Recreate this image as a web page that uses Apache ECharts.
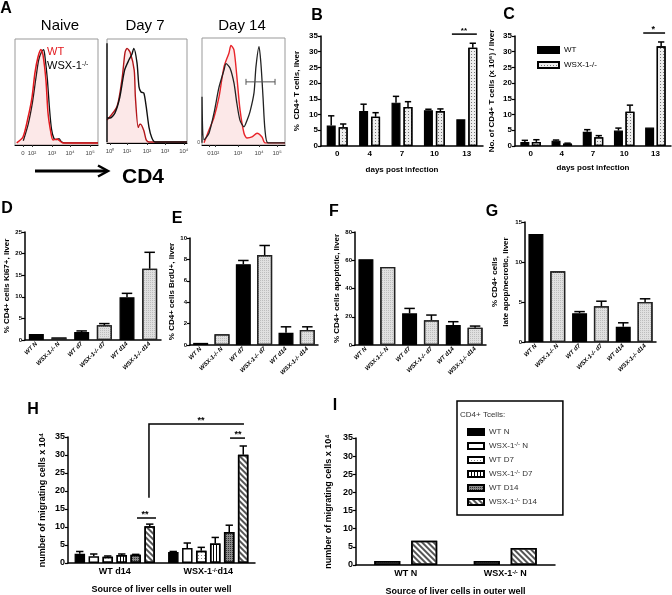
<!DOCTYPE html>
<html><head><meta charset="utf-8">
<script src="https://cdn.jsdelivr.net/npm/echarts@6/dist/echarts.min.js"></script>
<style>html,body{margin:0;padding:0;background:#fff}#c{width:672px;height:595px}</style>
</head><body><div id="c"></div>
<script>
// ---------- Panel A: flow histograms (x: channel, % of plot width; y: % of max count) ----------
const naiveWT = [[2,2],[9.6,7.5],[15.7,26],[20.5,45],[24,68],[27.7,83],[31.3,90],[33.7,85],[37.3,61],[39.8,30],[43.4,11],[45.8,4.7],[50.6,5.7],[54,3.8],[57.8,2],[100,2]];
const naiveKO = [[10,4],[16,20],[21,40],[25,62],[28.5,80],[32,88],[34.5,90],[36,84],[39,62],[41.5,35],[44,15],[47,6],[50,5],[53,6],[56,3],[60,2],[100,2]];
const d7WT = [[0,22],[12.5,35],[19,63],[22.5,87],[25,91],[29,87],[34,70],[35.5,44],[39,15],[41,18],[42,18],[46,12],[49,3],[52.5,1],[100,1]];
const d7KO = [[0,1],[0,96],[1,24],[4,24],[10,29],[16,44],[22,70],[27.5,80],[31,85],[33.5,91],[37.5,77],[40,54],[42.5,49],[46,48],[49,35],[52.5,15],[56,5],[60,1],[100,1]];
const d14WT = [[2.4,2],[8.4,14],[14.5,26],[20.5,45],[26.5,73],[32.5,86],[34.9,93],[38.5,89],[42,64],[45.8,33],[50.6,11],[54.2,6.5],[60.2,7.5],[66.3,11],[72.3,7.5],[75.9,2],[100,2]];
const d14KO = [[0,2],[0,45],[2.4,4.7],[8.4,11],[14.5,30],[20.5,54],[26.5,70],[29,76],[33.7,72],[38.5,58],[42,39],[45.8,23],[50.6,17],[54.2,23],[57.8,31],[62.7,49],[65,73],[68.7,92],[71,76],[73.5,45],[75.9,14],[79.5,2],[100,2]];
const d14Gate = [[53, 88, 59]];
const naiveTicks = [[9.6,'0'],[20.5,'10²'],[44.6,'10³'],[66.3,'10⁴'],[90.4,'10⁵']];
const d7Ticks = [[3.75,'10⁰'],[25,'10¹'],[50,'10²'],[72.5,'10³'],[96,'10⁴']];
const d14Ticks = [[8.4,'0'],[15.7,'10²'],[43.4,'10³'],[68.7,'10⁴'],[90.4,'10⁵']];

// ---------- Panels B, C ----------
const dayCats = ['0','4','7','10','13'];
const bWT = [6.5, 11.1, 13.8, 11.4, 8.5];
const bWTerr = [9.6, 13.3, 15.8, 11.7, 8.5];
const bKO = [6.0, 9.3, 12.4, 11.1, 31.3];
const bKOerr = [7.0, 10.6, 14.1, 11.8, 32.7];
const cWT = [1.3, 1.7, 4.5, 4.9, 5.85];
const cWTerr = [1.8, 1.9, 5.2, 5.7, 5.85];
const cKO = [1.3, 0.75, 2.8, 10.9, 31.7];
const cKOerr = [2.0, 0.9, 3.3, 13.0, 33.1];

// ---------- Panels D-G ----------
const groupCats = ['WT N','WSX-1-/- N','WT d7','WSX-1-/- d7','WT d14','WSX-1-/- d14'];
const dVals = [1.4, 0.6, 1.85, 3.4, 9.9, 16.5];
const dErr  = [1.4, 0.6, 2.1, 3.8, 10.8, 20.3];
const eVals = [0.2, 1.0, 7.55, 8.4, 1.15, 1.4];
const eErr  = [0.2, 1.0, 7.9, 9.3, 1.7, 1.7];
const fVals = [60.7, 55.3, 22.4, 17.6, 14.1, 12.2];
const fErr  = [60.7, 55.3, 25.9, 21.2, 16.5, 13.4];
const gVals = [13.5, 8.83, 3.6, 4.46, 1.9, 5.0];
const gErr  = [13.5, 8.83, 3.8, 5.1, 2.4, 5.4];

// ---------- Panels H, I ----------
const hCats = ['WT d14','WSX-1-/-d14'];
const hNames = ['WT N','WSX-1-/- N','WT D7','WSX-1-/- D7','WT D14','WSX-1-/- D14'];
const hVals = [[2.6,3.05],[1.85,4.2],[1.75,3.4],[2.2,5.4],[2.3,8.6],[10.2,30.1]];
const hErr  = [[3.2,3.2],[2.5,5.55],[1.95,4.35],[2.5,7.1],[2.4,10.5],[10.8,32.5]];
const iCats = ['WT N','WSX-1-/- N'];
const iNames = ['WT D14','WSX-1-/- D14'];
const iVals = [[1.1,1.1],[6.7,4.7]];

// significance brackets: points [category, offset in category widths, value]
const sigB = [{line:[[4,-0.46,35.6],[4,0.31,35.6]], text:[4,-0.09,35.6], label:'**', fs:8}];
const sigC = [{line:[[4,-0.39,35.95],[4,0.31,35.95]], text:[4,-0.07,35.95], label:'*', fs:9}];
const sigH = [
  {line:[[0,0.238,12.5],[0,0.441,12.5]], text:[0,0.324,12.5], label:'**', fs:9},
  {line:[[1,0.233,34.7],[1,0.393,34.7]], text:[1,0.318,34.7], label:'**', fs:9},
  {line:[[0,0.366,18.1],[0,0.366,38.6],[1,0.382,38.6]], text:[0,0.922,38.6], label:'**', fs:9}
];

const F = '"Liberation Sans", Arial, Helvetica, sans-serif';
const grids = [
  {left:15, top:39, width:83, height:106},
  {left:107, top:39, width:80, height:104},
  {left:202, top:38, width:83, height:107},
  {left:321, top:36, width:162, height:110},
  {left:515, top:36, width:156, height:110},
  {left:25, top:232, width:136, height:108},
  {left:190, top:238, width:128, height:107},
  {left:355, top:232, width:131, height:113},
  {left:525, top:222, width:131, height:120},
  {left:68, top:437, width:187, height:126},
  {left:356, top:438, width:199, height:127}
].map((g,i)=>Object.assign({containLabel:false, outerBoundsMode:'none', show:i<3, borderColor:'#999', borderWidth:1}, g));

const xAxis = [], yAxis = [], series = [];

function histAxes(gi, ticks, yZero) {
  const vals = ticks.map(t=>t[0]);
  xAxis.push({gridIndex:gi, type:'value', min:0, max:100, splitLine:{show:false},
    axisLine:{lineStyle:{color:'#000', width:1}},
    axisTick:{customValues:vals, length:2, lineStyle:{color:'#333'}},
    axisLabel:{customValues:vals, formatter:v=>{const t=ticks.find(t=>Math.abs(t[0]-v)<0.01); return t?t[1]:'';}, fontSize:6, color:'#444', margin:5, fontFamily:F}});
  yAxis.push({gridIndex:gi, type:'value', min:0, max:100, splitLine:{show:false}, axisLine:{show:false}, axisTick:{show:false},
    axisLabel: yZero ? {customValues:[2], formatter:()=> '0', fontSize:5, color:'#444', margin:2} : {show:false}});
}
function barAxes(gi, cats, max, interval, o) {
  xAxis.push({gridIndex:gi, type:'category', data:cats,
    axisLine:{lineStyle:{color:'#000', width:1.5}},
    axisTick:{alignWithLabel:true, length:3, lineStyle:{color:'#000', width:1.2}},
    axisLabel:Object.assign({color:'#000', fontWeight:'bold', fontFamily:F, interval:0}, o.xl),
    name:o.xname||'', nameLocation:'middle', nameGap:o.xgap||0,
    nameTextStyle:{fontSize:o.xns||8, fontWeight:'bold', color:'#000', fontFamily:F}});
  yAxis.push({gridIndex:gi, type:'value', min:0, max:max, interval:interval,
    axisLine:{show:true, lineStyle:{color:'#000', width:1.5}},
    axisTick:{show:true, length:3, lineStyle:{color:'#000', width:1.2}},
    splitLine:{show:false},
    axisLabel:{fontSize:o.yfs, fontWeight:'bold', color:'#000', fontFamily:F, margin:3},
    name:o.yname, nameLocation:'middle', nameGap:o.ygap, nameRotate:90,
    nameTextStyle:{fontSize:o.yns, fontWeight:'bold', color:'#000', fontFamily:F, lineHeight:o.ylh||o.yns+2, align:'center'}});
}
function errSeries(ai, vals, errs, n, k, step, bw) {
  return {type:'custom', xAxisIndex:ai, yAxisIndex:ai, z:5, silent:true, clip:false,
    data: vals.map((v,i)=>[i, v, errs[i]]), encode:{x:0, y:[1,2]},
    renderItem:(p, api)=>{
      const i=api.value(0), v=api.value(1), e=api.value(2);
      if (!(e > v + 0.01)) return null;
      const a=api.coord([i,v]), b=api.coord([i,e]);
      const x=a[0]+(k-(n-1)/2)*step, h=bw*0.35;
      return {type:'group', children:[
        {type:'line', shape:{x1:x,y1:a[1],x2:x,y2:b[1]}, style:{stroke:'#000', lineWidth:1.5}},
        {type:'line', shape:{x1:x-h,y1:b[1],x2:x+h,y2:b[1]}, style:{stroke:'#000', lineWidth:1.5}}
      ]};
    }};
}
function annSeries(ai, specs) {
  return {type:'custom', xAxisIndex:ai, yAxisIndex:ai, z:6, silent:true, clip:false,
    data: specs.map(s=>[s.line[0][0], s.line[0][2]]), encode:{x:0, y:1},
    renderItem:(p, api)=>{
      const s = specs[p.dataIndex];
      const cw = api.size([1,0])[0];
      const pt = q => { const c = api.coord([q[0], q[2]]); return [c[0]+q[1]*cw, c[1]]; };
      const t = pt(s.text);
      return {type:'group', children:[
        {type:'polyline', shape:{points:s.line.map(pt)}, style:{stroke:'#000', lineWidth:1.5, fill:null}},
        {type:'text', x:t[0], y:t[1]+1, style:{text:s.label, fontSize:s.fs, fontWeight:'bold', fill:'#000', align:'center', verticalAlign:'bottom', fontFamily:F}}
      ]};
    }};
}
function histLine(ai, data, color, w, area, z) {
  const s = {type:'line', xAxisIndex:ai, yAxisIndex:ai, data, showSymbol:false, smooth:0.25, z,
    lineStyle:{color, width:w}, silent:true};
  if (area) s.areaStyle = {color:'rgba(235,95,95,0.2)'};
  return s;
}

// ---- A ----
histAxes(0, naiveTicks, false);
histAxes(1, d7Ticks, false);
histAxes(2, d14Ticks, true);
series.push(histLine(0, naiveKO, '#111', 1.3, false, 2), histLine(0, naiveWT, '#e3191e', 1.5, true, 3));
series.push(histLine(1, d7WT, '#b3161a', 1.4, true, 2), histLine(1, d7KO, '#111', 1.4, false, 3));
series.push(histLine(2, d14WT, '#e8242a', 1.4, true, 2), histLine(2, d14KO, '#222', 1.3, false, 3));
series.push({type:'custom', xAxisIndex:2, yAxisIndex:2, z:4, silent:true, data:d14Gate, encode:{x:[0,1], y:2},
  renderItem:(p, api)=>{
    const a=api.coord([api.value(0), api.value(2)]), b=api.coord([api.value(1), api.value(2)]);
    const st={stroke:'#555', lineWidth:1};
    return {type:'group', children:[
      {type:'line', shape:{x1:a[0],y1:a[1],x2:b[0],y2:b[1]}, style:st},
      {type:'line', shape:{x1:a[0],y1:a[1]-3,x2:a[0],y2:a[1]+3}, style:st},
      {type:'line', shape:{x1:b[0],y1:b[1]-3,x2:b[0],y2:b[1]+3}, style:st}]};
  }});

// ---- styles ----
const wtStyle = {color:'#000', borderColor:'#000', borderWidth:1.2};
const koDot = {color:'#ededed', borderColor:'#000', borderWidth:1.3, decal:{symbol:'rect', symbolSize:1, dashArrayX:[1,2], dashArrayY:[1,2], color:'#777'}};
const koGray = {color:'#e0e0e0', borderColor:'#222', borderWidth:1.3, decal:{symbol:'rect', symbolSize:1, dashArrayX:[1,1], dashArrayY:[1,1], color:'#bdbdbd'}};
const hStyles = [
  {color:'#000', borderColor:'#000', borderWidth:1.3},
  {color:'#fff', borderColor:'#000', borderWidth:1.5},
  {color:'#fff', borderColor:'#000', borderWidth:1.5, decal:{symbol:'rect', symbolSize:1, dashArrayX:[1,2], dashArrayY:[1,2], color:'#888'}},
  {color:'#fff', borderColor:'#000', borderWidth:1.5, decal:{symbol:'rect', symbolSize:1, dashArrayX:[1,2], dashArrayY:[1,0], color:'#000'}},
  {color:'#8a8a8a', borderColor:'#000', borderWidth:1.5, decal:{symbol:'rect', symbolSize:1, dashArrayX:[1,1], dashArrayY:[1,1], color:'#333'}},
  {color:'#fff', borderColor:'#000', borderWidth:1.5, decal:{symbol:'rect', symbolSize:1, dashArrayX:[1,0], dashArrayY:[1.3,1.7], rotation:Math.PI/4, color:'#555'}}
];

// ---- B ----
barAxes(3, dayCats, 35, 5, {yfs:8, yns:8, ygap:19, yname:'%  CD4+ T cells, liver', xname:'days post infection', xgap:20, xns:8, xl:{fontSize:8, margin:4}});
series.push({type:'bar', name:'WT', xAxisIndex:3, yAxisIndex:3, data:bWT, barWidth:9, barGap:'33%', itemStyle:wtStyle});
series.push({type:'bar', name:'WSX-1-/-', xAxisIndex:3, yAxisIndex:3, data:bKO, barWidth:9, barGap:'33%', itemStyle:koDot});
series.push(errSeries(3, bWT, bWTerr, 2, 0, 12, 9), errSeries(3, bKO, bKOerr, 2, 1, 12, 9), annSeries(3, sigB));
// ---- C ----
barAxes(4, dayCats, 35, 5, {yfs:8, yns:8, ygap:18, yname:'No. of CD4+ T cells (x 10⁶) / liver', xname:'days post infection', xgap:18, xns:8, xl:{fontSize:8, margin:4}});
series.push({type:'bar', name:'WT', xAxisIndex:4, yAxisIndex:4, data:cWT, barWidth:9, barGap:'28%', itemStyle:wtStyle});
series.push({type:'bar', name:'WSX-1-/-', xAxisIndex:4, yAxisIndex:4, data:cKO, barWidth:9, barGap:'28%', itemStyle:koDot});
series.push(errSeries(4, cWT, cWTerr, 2, 0, 11.5, 9), errSeries(4, cKO, cKOerr, 2, 1, 11.5, 9), annSeries(4, sigC));

// ---- D-G ----
const dgXL = {rotate:45, fontSize:6, fontStyle:'italic', margin:3};
const dg = [
  [5, dVals, dErr, 25, 5, '% CD4+ cells Ki67+, liver', 13, undefined],
  [6, eVals, eErr, 10, 2, '% CD4+ cells BrdU+, liver', 11, undefined],
  [7, fVals, fErr, 80, 20, '% CD4+ cells apoptotic, liver', 12, undefined],
  [8, gVals, gErr, 15, 5, '% CD4+ cells\nlate apop/necrotic, liver', 13, 11]
];
dg.forEach(([gi, vals, errs, max, iv, name, gap, lh])=>{
  barAxes(gi, groupCats, max, iv, {yfs:6, yns:8, ygap:gap, yname:name, ylh:lh, xl:dgXL});
  series.push({type:'bar', xAxisIndex:gi, yAxisIndex:gi, barWidth:15,
    data: vals.map((v,i)=>({value:v, itemStyle: i%2 ? koGray : wtStyle}))});
  series.push(errSeries(gi, vals, errs, 1, 0, 0, 15));
});

// ---- H ----
const supRich = {s:{fontSize:6, lineHeight:6, verticalAlign:'top', fontWeight:'bold', fontFamily:F}};
const supFmt = v => v.replace('-/-', '{s|-/-}');
barAxes(9, hCats, 35, 5, {yfs:9, yns:9, ygap:20, yname:'number of migrating cells x 10⁴', xname:'Source of liver cells in outer well', xgap:22, xns:9,
  xl:{fontSize:9, margin:4, formatter:supFmt, rich:supRich}});
hNames.forEach((n,k)=>{
  series.push({type:'bar', name:n, xAxisIndex:9, yAxisIndex:9, data:hVals[k], barWidth:10.5, barGap:'33%', itemStyle:hStyles[k]});
  series.push(errSeries(9, hVals[k], hErr[k], 6, k, 14, 10.5));
});
series.push(annSeries(9, sigH));
// ---- I ----
barAxes(10, iCats, 35, 5, {yfs:9, yns:9, ygap:22, yname:'number of migrating cells x 10⁴', xname:'Source of liver cells in outer well', xgap:22, xns:9,
  xl:{fontSize:9, margin:4, formatter:supFmt, rich:supRich}});
iNames.forEach((n,k)=>{
  series.push({type:'bar', name:n, xAxisIndex:10, yAxisIndex:10, data:iVals[k], barWidth:26, barGap:'42%', itemStyle:hStyles[4+k]});
});

// ---- text & decorations ----
const letters = [['A',6,9],['B',317,16],['C',509,15],['D',7,209],['E',177,219],['F',334,212],['G',492,212],['H',33,410],['I',335,406]];
const graphic = letters.map(([t,x,y])=>({type:'text', x, y, silent:true,
  style:{text:t, fontSize:16, fontWeight:'bold', fontFamily:F, fill:'#000', align:'center', verticalAlign:'middle'}}));
[['Naive',60,26],['Day 7',145,26],['Day 14',242,26]].forEach(([t,x,y])=>graphic.push({type:'text', x, y, silent:true,
  style:{text:t, fontSize:15, fontFamily:F, fill:'#000', align:'center', verticalAlign:'middle'}}));
graphic.push({type:'text', x:47, y:52, silent:true, style:{text:'WT', fontSize:11, fontFamily:F, fill:'#e3191e', verticalAlign:'middle'}});
graphic.push({type:'text', x:47, y:66, silent:true, style:{text:'WSX-1{s|-/-}', fontSize:11, fontFamily:F, fill:'#000', verticalAlign:'middle',
  rich:{s:{fontSize:7, lineHeight:7, verticalAlign:'top', fontFamily:F, fill:'#000'}}}});
graphic.push({type:'line', silent:true, shape:{x1:35,y1:171,x2:106,y2:171}, style:{stroke:'#000', lineWidth:3}});
graphic.push({type:'polyline', silent:true, shape:{points:[[98,165.5],[108,171],[98,176.5]]}, style:{stroke:'#000', lineWidth:2.5, fill:null}});
graphic.push({type:'text', x:122, y:177, silent:true, style:{text:'CD4', fontSize:21, fontWeight:'bold', fontFamily:F, fill:'#000', verticalAlign:'middle'}});
graphic.push({type:'text', x:460, y:415, silent:true, style:{text:'CD4+ Tcells:', fontSize:8, fontFamily:F, fill:'#333', verticalAlign:'middle'}});

const option = {
  animation:false,
  textStyle:{fontFamily:F},
  grid: grids, xAxis, yAxis, series, graphic,
  legend: [
    {data:['WT','WSX-1-/-'], left:532, top:41, orient:'vertical', icon:'rect', itemWidth:21, itemHeight:6, itemGap:7, selectedMode:false,
     textStyle:{fontSize:8, color:'#000', fontFamily:F}},
    {data:hNames, left:457, top:401, orient:'vertical', icon:'rect', itemWidth:16, itemHeight:6, itemGap:4, selectedMode:false,
     padding:[26,26,8,10], borderColor:'#000', borderWidth:1.5,
     formatter: n => n.replace('-/-','{s|-/-}'),
     textStyle:{fontSize:8, color:'#333', fontFamily:F, lineHeight:10, rich:{s:{fontSize:6, lineHeight:6, verticalAlign:'top', color:'#333', fontFamily:F}}}}
  ]
};
const chart = echarts.init(document.getElementById('c'), null, {renderer:'canvas'});
chart.setOption(option);
</script></body></html>
